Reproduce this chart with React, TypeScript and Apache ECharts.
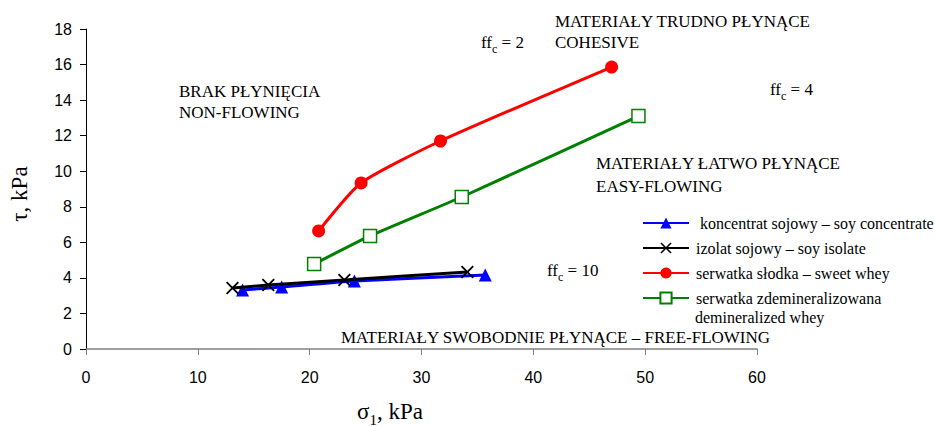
import React, { useEffect, useRef } from 'react';
import * as echarts from 'echarts';

const seriesNames = [
  ' koncentrat sojowy – soy concentrate',
  'izolat sojowy – soy isolate',
  'serwatka słodka – sweet whey',
  'serwatka zdemineralizowana',
];
const legendSecondLine = 'demineralized whey';

const soyConcentrateX = [14.0, 17.5, 24.0, 35.7];
const soyConcentrateY = [3.32, 3.49, 3.82, 4.16];
const soyIsolateX = [13.1, 16.3, 23.1, 34.1];
const soyIsolateY = [3.43, 3.6, 3.88, 4.33];
const sweetWheyX = [20.8, 24.6, 31.7, 47.0];
const sweetWheyY = [6.64, 9.34, 11.7, 15.86];
const demWheyX = [20.4, 25.4, 33.6, 49.4];
const demWheyY = [4.78, 6.36, 8.55, 13.1];

const xTicks = { min: 0, max: 60, interval: 10 };
const yTicks = { min: 0, max: 18, interval: 2 };

const zip = (xs: number[], ys: number[]) => xs.map((x, i) => [x, ys[i]]);

const SERIF = 'Liberation Serif, Times New Roman, serif';
const SANS = 'Liberation Sans, Arial, sans-serif';

const crossPath = 'path://M0,1L1,0L5,4L9,0L10,1L6,5L10,9L9,10L5,6L1,10L0,9L4,5Z';

export default function App() {
  const ref = useRef<HTMLDivElement>(null);
  useEffect(() => {
    if (!ref.current) return;
    const chart = echarts.init(ref.current, undefined, { renderer: 'svg' });
    const txt = (text: string, x: number, y: number, size = 17) => ({
      type: 'text',
      style: { text, x, y, fontFamily: SERIF, fontSize: size, fill: '#000', align: 'left', verticalAlign: 'middle' },
      silent: true,
    });
    const ffc = (val: string, x: number, y: number) => ({
      type: 'text',
      style: {
        text: `{a|ff}{b|c}{a| = ${val}}`,
        x,
        y,
        align: 'left',
        verticalAlign: 'middle',
        rich: {
          a: { fontFamily: SERIF, fontSize: 17, fill: '#000', lineHeight: 20, verticalAlign: 'bottom' },
          b: { fontFamily: SERIF, fontSize: 12, fill: '#000', lineHeight: 20, verticalAlign: 'bottom', padding: [0, 0, -4, 0] },
        },
      },
      silent: true,
    });
    chart.setOption({
      animation: false,
      backgroundColor: '#fff',
      grid: { left: 86, right: 178, top: 29, bottom: 78 },
      xAxis: {
        type: 'value',
        min: xTicks.min,
        max: xTicks.max,
        interval: xTicks.interval,
        axisLine: { onZero: false, lineStyle: { color: '#808080', width: 1.5 } },
        axisTick: { show: true, length: 6, lineStyle: { color: '#808080' } },
        axisLabel: { color: '#000', fontFamily: SANS, fontSize: 16, margin: 20 },
        splitLine: { show: false },
      },
      yAxis: {
        type: 'value',
        min: yTicks.min,
        max: yTicks.max,
        interval: yTicks.interval,
        axisLine: { show: true, onZero: false, lineStyle: { color: '#000', width: 1 } },
        axisTick: { show: true, length: 6, lineStyle: { color: '#000' } },
        axisLabel: { color: '#000', fontFamily: SANS, fontSize: 16, margin: 14 },
        splitLine: { show: false },
      },
      legend: {
        orient: 'vertical',
        left: 637,
        top: 210,
        itemWidth: 46,
        itemHeight: 14,
        itemGap: 9,
        textStyle: { fontFamily: SERIF, fontSize: 16, lineHeight: 16, color: '#000', padding: [0, 0, 0, 2] },
        data: seriesNames,
      },
      series: [
        {
          name: seriesNames[0],
          type: 'line',
          data: zip(soyConcentrateX, soyConcentrateY),
          smooth: 0.15,
          symbol: 'triangle',
          symbolSize: 13,
          lineStyle: { color: '#0000ff', width: 3 },
          itemStyle: { color: '#0000ff' },
          z: 3,
        },
        {
          name: seriesNames[1],
          type: 'line',
          data: zip(soyIsolateX, soyIsolateY),
          smooth: 0.15,
          symbol: crossPath,
          symbolSize: 13,
          lineStyle: { color: '#000', width: 3 },
          itemStyle: { color: '#000' },
          z: 4,
        },
        {
          name: seriesNames[2],
          type: 'line',
          data: zip(sweetWheyX, sweetWheyY),
          smooth: 0.2,
          symbol: 'circle',
          symbolSize: 13,
          lineStyle: { color: '#ff0000', width: 3 },
          itemStyle: { color: '#ff0000' },
        },
        {
          name: seriesNames[3],
          type: 'line',
          data: zip(demWheyX, demWheyY),
          smooth: 0.15,
          symbol: 'rect',
          symbolSize: 13,
          lineStyle: { color: '#008000', width: 3 },
          itemStyle: { color: '#fff', borderColor: '#008000', borderWidth: 1.5 },
        },
      ],
      graphic: [
        txt(legendSecondLine, 695, 317, 16),
        txt('BRAK PŁYNIĘCIA', 179, 91),
        txt('NON-FLOWING', 179, 112),
        txt('MATERIAŁY TRUDNO PŁYNĄCE', 555, 21),
        txt('COHESIVE', 555, 42),
        txt('MATERIAŁY ŁATWO PŁYNĄCE', 596, 163),
        txt('EASY-FLOWING', 596, 186),
        txt('MATERIAŁY SWOBODNIE PŁYNĄCE – FREE-FLOWING', 341, 337),
        ffc('2', 481, 41),
        ffc('4', 770, 88),
        ffc('10', 547, 269),
        {
          type: 'text',
          rotation: Math.PI / 2,
          x: 19,
          y: 194,
          style: { text: 'τ, kPa', x: 0, y: 0, fontFamily: SERIF, fontSize: 23, fill: '#000', align: 'center', verticalAlign: 'middle' },
          silent: true,
        },
        {
          type: 'text',
          style: {
            text: '{a|σ}{b|1}{a|, kPa}',
            x: 390,
            y: 410,
            align: 'center',
            verticalAlign: 'middle',
            rich: {
              a: { fontFamily: SERIF, fontSize: 23, fill: '#000', lineHeight: 26, verticalAlign: 'bottom' },
              b: { fontFamily: SERIF, fontSize: 15, fill: '#000', lineHeight: 26, verticalAlign: 'bottom', padding: [0, 0, -4, 0] },
            },
          },
          silent: true,
        },
      ],
    });
    return () => chart.dispose();
  }, []);
  return <div ref={ref} style={{ position: 'fixed', left: 0, top: 0, width: 935, height: 427 }} />;
}
